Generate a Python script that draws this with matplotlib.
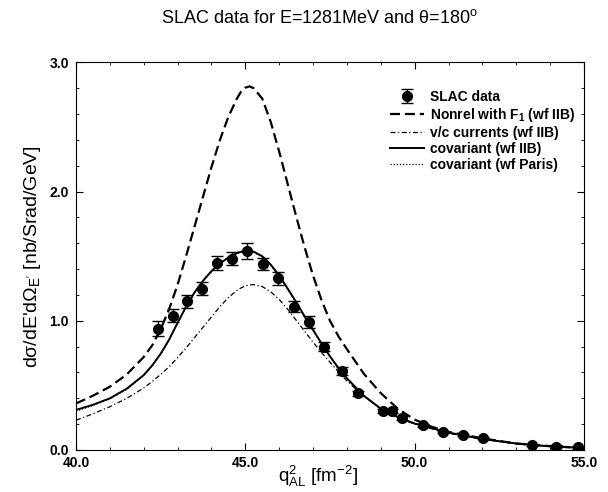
import matplotlib
matplotlib.use("Agg")
import matplotlib.pyplot as plt
from matplotlib.ticker import MultipleLocator, FormatStrFormatter

plt.rcParams['font.family'] = ['Liberation Sans', 'DejaVu Sans']
plt.rcParams['mathtext.default'] = 'regular'

# SLAC data points
q2_data = [42.41, 42.85, 43.28, 43.71, 44.15, 44.60, 45.05, 45.51, 45.95, 46.43,
           46.89, 47.33, 47.84, 48.34, 49.07, 49.32, 49.62, 50.26, 50.83, 51.42,
           52.01, 53.47, 54.16, 54.83]
xs_data = [0.94, 1.04, 1.15, 1.25, 1.45, 1.48, 1.54, 1.44, 1.33, 1.11,
           0.99, 0.80, 0.61, 0.44, 0.30, 0.30, 0.245, 0.19, 0.14, 0.115,
           0.094, 0.039, 0.026, 0.02]
xs_err = [0.06, 0.05, 0.05, 0.05, 0.055, 0.05, 0.06, 0.05, 0.05, 0.045,
          0.045, 0.035, 0.03, 0.02, 0.015, 0.015, 0.015, 0.01, 0.01, 0.01,
          0.01, 0.01, 0.01, 0.01]

# model curves
q2_curve = [40, 40.5, 41, 41.5, 42, 42.25, 42.5, 42.75, 43, 43.25, 43.5, 43.75,
            44, 44.25, 44.5, 44.75, 44.875, 45, 45.125, 45.25, 45.5, 45.75, 46, 46.25,
            46.5, 46.75, 47, 47.25, 47.5, 47.75, 48, 48.5, 49, 49.5, 50, 50.5, 51,
            52, 53, 54, 55]
nonrel_iib = [0.36, 0.42, 0.49, 0.585, 0.72, 0.81, 0.935, 1.09, 1.28, 1.50, 1.73, 1.96,
              2.19, 2.40, 2.58, 2.72, 2.775, 2.805, 2.815, 2.80, 2.72, 2.54, 2.31, 2.06,
              1.81, 1.57, 1.35, 1.16, 1.00, 0.88, 0.78, 0.59, 0.44, 0.32, 0.235, 0.18, 0.14,
              0.09, 0.05, 0.03, 0.015]
vc_iib = [0.23, 0.28, 0.335, 0.40, 0.48, 0.53, 0.585, 0.645, 0.715, 0.79, 0.87, 0.95,
          1.03, 1.11, 1.18, 1.235, 1.255, 1.27, 1.278, 1.28, 1.265, 1.225, 1.165, 1.09,
          1.005, 0.92, 0.835, 0.755, 0.68, 0.605, 0.535, 0.415, 0.318, 0.252, 0.20, 0.165, 0.13,
          0.083, 0.05, 0.028, 0.015]
cov_iib = [0.31, 0.35, 0.40, 0.475, 0.58, 0.655, 0.745, 0.855, 0.985, 1.11, 1.22, 1.31,
           1.385, 1.445, 1.49, 1.525, 1.535, 1.54, 1.54, 1.535, 1.50, 1.435, 1.35, 1.25,
           1.145, 1.035, 0.93, 0.825, 0.725, 0.635, 0.555, 0.42, 0.32, 0.255, 0.205, 0.17, 0.135,
           0.085, 0.05, 0.028, 0.015]
cov_paris = [0.30, 0.345, 0.395, 0.47, 0.575, 0.65, 0.74, 0.85, 0.98, 1.105, 1.215, 1.305,
             1.38, 1.44, 1.485, 1.52, 1.53, 1.535, 1.535, 1.53, 1.495, 1.43, 1.345, 1.245,
             1.14, 1.03, 0.925, 0.82, 0.72, 0.632, 0.552, 0.418, 0.318, 0.253, 0.203, 0.168, 0.133,
             0.084, 0.05, 0.028, 0.015]

fig = plt.figure(figsize=(6.08, 4.92), dpi=100)
ax = fig.add_axes([0.125, 0.0854, 0.8355, 0.7876])

ax.plot(q2_curve, nonrel_iib, color='black', lw=1.6, linestyle=(0, (4.5, 2.2)),
        label='Nonrel with F$_1$ (wf IIB)')
ax.plot(q2_curve, vc_iib, color='black', lw=0.9, linestyle=(0, (4, 2, 1, 2)),
        label='v/c currents (wf IIB)')
ax.plot(q2_curve, cov_iib, color='black', lw=1.4, label='covariant (wf IIB)')
ax.plot(q2_curve, cov_paris, color='black', lw=0.9, linestyle=(0, (1, 1.5)),
        label='covariant (wf Paris)')
ax.errorbar(q2_data, xs_data, yerr=xs_err, fmt='o', color='black', ms=7,
            elinewidth=1, capsize=4, capthick=1, label='SLAC data', zorder=5)

ax.set_xlim(40, 55)
ax.set_ylim(0, 3)
ax.xaxis.set_major_locator(MultipleLocator(5))
ax.xaxis.set_minor_locator(MultipleLocator(1))
ax.yaxis.set_major_locator(MultipleLocator(1))
ax.yaxis.set_minor_locator(MultipleLocator(0.2))
ax.xaxis.set_major_formatter(FormatStrFormatter('%.1f'))
ax.yaxis.set_major_formatter(FormatStrFormatter('%.1f'))
ax.tick_params(which='both', direction='in', top=True, right=True)
ax.tick_params(which='major', length=5, labelsize=10)
ax.tick_params(which='minor', length=2.5)
ax.tick_params(axis='x', pad=4)
ax.tick_params(axis='y', pad=5)
for lbl in ax.get_xticklabels() + ax.get_yticklabels():
    lbl.set_fontweight('bold')

fig.text(0.526, 0.963, 'SLAC data for E=1281MeV and \u03b8=180$^o$', fontsize=13,
         ha='center', va='center')
ax.set_xlabel('q$^2_{AL}$ [fm$^{-2}$]', fontsize=13.5)
ax.xaxis.set_label_coords(0.476, -0.035, transform=ax.transAxes)
ax.xaxis.label.set_va('top')
ax.set_ylabel("d\u03c3/dE'd\u03a9$_{E'}$ [nb/Srad/GeV]", fontsize=14, labelpad=5)

handles, labels = ax.get_legend_handles_labels()
order = [4, 0, 1, 2, 3]
ax.legend([handles[i] for i in order], [labels[i] for i in order],
          loc='upper right', bbox_to_anchor=(0.997, 0.948), frameon=False,
          numpoints=1, handlelength=2.45, handletextpad=0.45, labelspacing=0.15,
          borderpad=0, prop={'size': 10, 'weight': 'bold'})

fig.savefig('out.png', dpi=100)
